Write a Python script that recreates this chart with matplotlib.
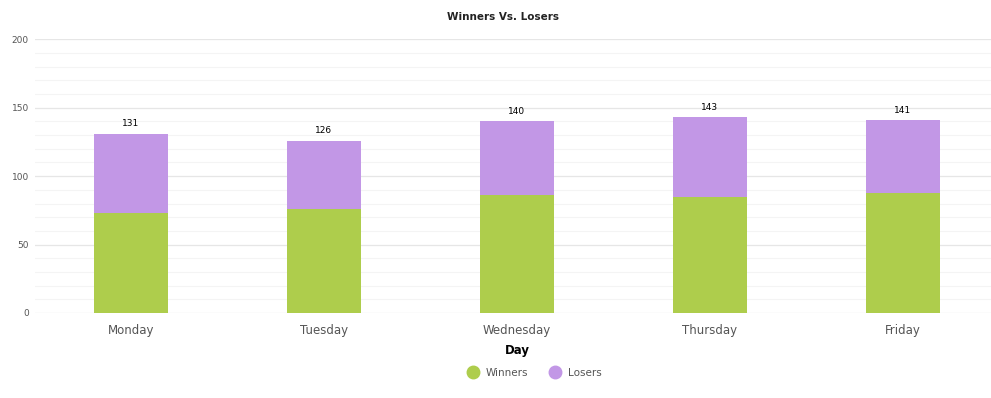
import numpy as np
from matplotlib import pyplot as plt
from matplotlib.lines import Line2D

days = ['Monday', 'Tuesday', 'Wednesday', 'Thursday', 'Friday']
winners = [73, 76, 86, 85, 88]
losers = [58, 50, 54, 58, 53]
totals = [131, 126, 140, 143, 141]

green = '#aecd4c'
purple = '#c297e6'

fig = plt.figure(figsize=(9.91, 3.98), dpi=100)
# axes spans a bit past the right edge so the bars land where the reference puts them
ax = fig.add_axes([34.5 / 991, 1 - 313 / 398, 965 / 991, (313 - 39.3) / 398])

x = np.arange(len(days))
ax.bar(x, winners, width=0.383, color=green, zorder=3)
ax.bar(x, losers, width=0.383, bottom=winners, color=purple, zorder=3)

for xi, t in zip(x, totals):
    ax.text(xi, t + 4, str(t), ha='center', va='bottom', fontsize=6.5, color='black')

ax.set_ylim(0, 200)
ax.set_xlim(-0.5, 4.5)
ax.set_yticks([0, 50, 100, 150, 200])
ax.set_yticks(np.arange(0, 201, 10), minor=True)
ax.grid(axis='y', which='major', color='#e6e6e6', linewidth=0.9, zorder=0)
ax.grid(axis='y', which='minor', color='#f4f4f4', linewidth=0.8, zorder=0)
ax.set_xticks(x)
ax.set_xticklabels(days, fontsize=8.5, color='#555555')
ax.tick_params(axis='y', labelsize=6.5, colors='#555555', length=0, pad=4, which='both')
ax.tick_params(axis='x', length=0, pad=8)
for s in ax.spines.values():
    s.set_visible(False)

ax.set_xlabel('Day', fontsize=8.5, fontweight='bold', labelpad=5)
fig.text(503 / 991, 1 - 17 / 398, 'Winners Vs. Losers',
         ha='center', va='center', fontsize=7.5, fontweight='bold', color='#222222')

handles = [Line2D([], [], marker='o', linestyle='', markersize=9, color=green),
           Line2D([], [], marker='o', linestyle='', markersize=9, color=purple)]
fig.legend(handles, ['Winners', 'Losers'], loc='center', bbox_to_anchor=(532 / 991, 1 - 373 / 398),
           ncol=2, frameon=False, fontsize=7.5, handletextpad=0.2, columnspacing=1.6,
           labelcolor='#555555')

fig.savefig('out.png', dpi=100)
